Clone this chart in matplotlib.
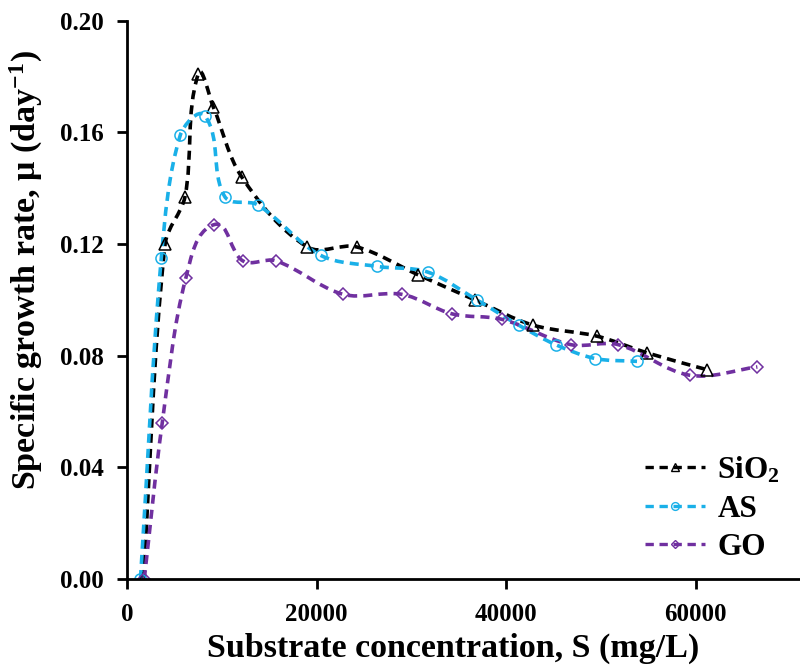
import numpy as np
import matplotlib.pyplot as plt
from matplotlib.path import Path
from matplotlib.patches import PathPatch
from matplotlib.lines import Line2D

plt.rcParams['font.family'] = 'Liberation Serif'
plt.rcParams['font.weight'] = 'bold'
plt.rcParams['mathtext.fontset'] = 'custom'
plt.rcParams['mathtext.rm'] = 'Liberation Serif:bold'
plt.rcParams['mathtext.it'] = 'Liberation Serif:bold'
plt.rcParams['mathtext.bf'] = 'Liberation Serif:bold'

# growth rate vs substrate concentration
s_sio2 = [1700, 4000, 6100, 7500, 9100, 12100, 19000, 24200, 30700, 36700, 42800, 49600, 54900, 61200]
mu_sio2 = [0.000, 0.120, 0.137, 0.181, 0.169, 0.144, 0.119, 0.119, 0.109, 0.100, 0.091, 0.087, 0.081, 0.075]

s_as = [1400, 3600, 5600, 8200, 10300, 13800, 20400, 26400, 31700, 36900, 41300, 45200, 49400, 53800]
mu_as = [0.000, 0.115, 0.159, 0.166, 0.137, 0.134, 0.116, 0.112, 0.110, 0.100, 0.091, 0.084, 0.079, 0.078]

s_go = [1800, 3700, 6200, 9200, 12200, 15700, 22800, 29000, 34300, 39600, 46800, 51800, 59400, 66500]
mu_go = [0.000, 0.056, 0.108, 0.127, 0.114, 0.114, 0.102, 0.102, 0.095, 0.093, 0.084, 0.084, 0.073, 0.076]

labels = ['SiO$_2$', 'AS', 'GO']
colors = ['black', '#1ab0e8', '#7030a0']
markers = ['^', 'o', 'D']
msizes = [8, 8, 6]


def smooth_path(x, y, ax):
    # cubic bezier through the points, tangents taken in screen space
    trans = ax.transData
    p = trans.transform(np.column_stack([x, y]).astype(float))
    verts = [p[0]]
    codes = [Path.MOVETO]
    n = len(p)
    for i in range(n - 1):
        p0 = p[i - 1] if i > 0 else p[i]
        p1 = p[i]
        p2 = p[i + 1]
        p3 = p[i + 2] if i + 2 < n else p[i + 1]
        d = np.linalg.norm(p2 - p1)
        t1 = p2 - p0
        t2 = p3 - p1
        n1 = np.linalg.norm(t1)
        n2 = np.linalg.norm(t2)
        c1 = p1 + (t1 / n1 * d / 3. if n1 > 0 else 0)
        c2 = p2 - (t2 / n2 * d / 3. if n2 > 0 else 0)
        verts += [c1, c2, p2]
        codes += [Path.CURVE4] * 3
    verts = trans.inverted().transform(np.array(verts))
    return Path(verts, codes)


fig = plt.figure(figsize=(8, 6.71), dpi=100)
ax = fig.add_axes([0.159, 0.137, 0.841, 0.832])
ax.set_xlim(0, 71000)
ax.set_ylim(0, 0.20)

handles = []
for xs, ys, c, m, ms, lab in zip([s_sio2, s_as, s_go], [mu_sio2, mu_as, mu_go],
                                 colors, markers, msizes, labels):
    patch = PathPatch(smooth_path(xs, ys, ax), facecolor='none', edgecolor=c,
                      lw=2.6, ls=(0, (2.5, 1.7)))
    ax.add_patch(patch)
    ax.plot(xs, ys, ls='none', marker=m, ms=ms, mfc='none', mec=c, mew=1.1)
    handles.append(Line2D([], [], color=c, lw=2.4, ls=(0, (2.5, 1.7)), marker=m,
                          ms=ms * 0.7, mfc='none', mec=c, label=lab))

ax.set_xticks([0, 20000, 40000, 60000])
ax.set_yticks(np.arange(0, 0.201, 0.04))
ax.yaxis.set_major_formatter(plt.FormatStrFormatter('%.2f'))
ax.tick_params(direction='out', length=7, width=2, labelsize=18, pad=10)
for side in ['top', 'right']:
    ax.spines[side].set_visible(False)
for side in ['left', 'bottom']:
    ax.spines[side].set_linewidth(2)

ax.set_xlabel('Substrate concentration, S (mg/L)', fontsize=24.5, fontweight='bold')
ax.set_ylabel('Specific growth rate, μ (day$^{-1}$)', fontsize=24.5, fontweight='bold')
ax.xaxis.set_label_coords(0.484, -0.097)
ax.yaxis.set_label_coords(-0.122, 0.553)

ax.legend(handles=handles, loc='lower right', bbox_to_anchor=(1.012, -0.02), frameon=False,
          fontsize=22.5, handlelength=1.9, labelspacing=0.3, handletextpad=0.4)

plt.savefig('out.png', dpi=100)
